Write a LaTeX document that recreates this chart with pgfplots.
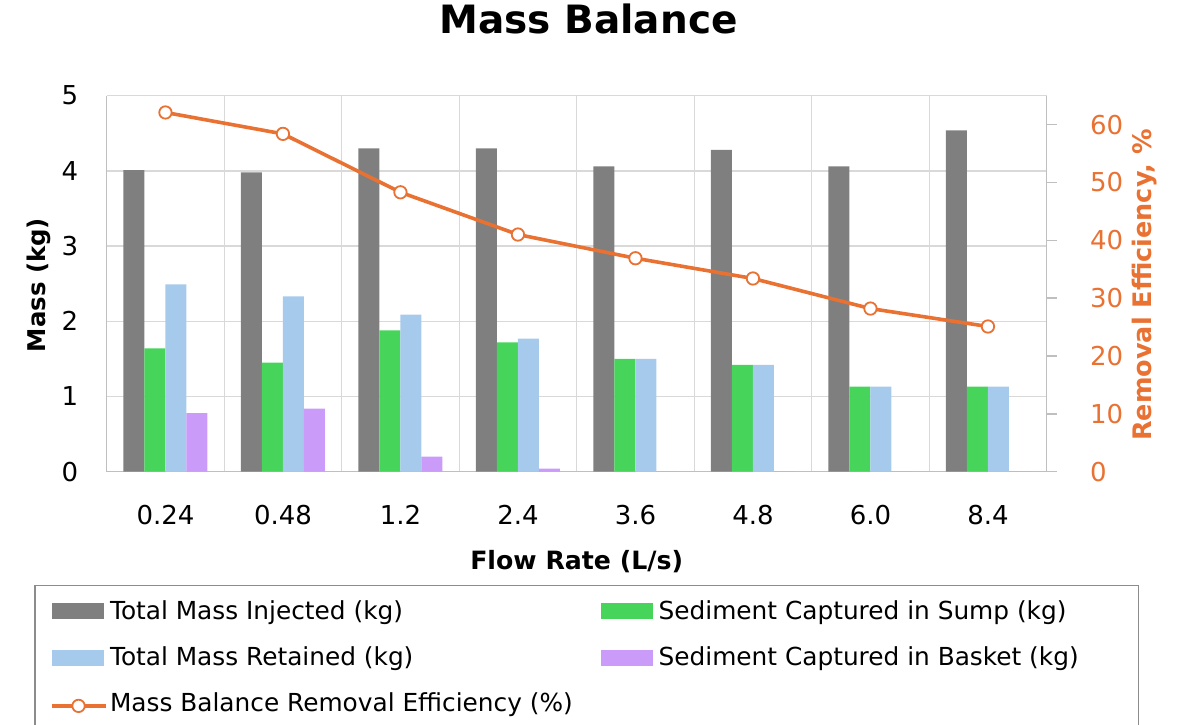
\documentclass[border=0pt]{standalone}
\usepackage{fontspec}
\setmainfont{DejaVu Sans}
\usepackage{pgfplots}
\pgfplotsset{compat=1.18}

\definecolor{injected}{HTML}{7F7F7F}
\definecolor{sump}{HTML}{47D45A}
\definecolor{retained}{HTML}{A6CAEC}
\definecolor{basket}{HTML}{CA9BF9}
\definecolor{effcolor}{HTML}{E97132}
\definecolor{gridgray}{HTML}{D9D9D9}
\definecolor{axisgray}{HTML}{BFBFBF}
\definecolor{legendgray}{HTML}{8C8C8C}

\newcommand\fs[1]{\fontsize{#1}{#1}\selectfont}

% legend swatches: a flat block for bars, a short line with a centred mark
\pgfplotsset{
  swatch/.style={legend image code/.code={\fill[##1] (0pt,0pt) rectangle (52pt,16pt);}},
  linekey/.style={legend image code/.code={\draw[##1, mark repeat=2, mark phase=2] plot coordinates {(0pt,6pt) (27pt,6pt) (54pt,6pt)};}},
}

\begin{document}
\begin{tikzpicture}[x=1pt,y=1pt]
\path[use as bounding box] (0,0) rectangle (1181,725);

% Mass bars (left axis)
\begin{axis}[
  at={(106.7pt,253.3pt)}, anchor=south west,
  scale only axis, width=940pt, height=376pt,
  xmin=-0.5, xmax=7.5, ymin=0, ymax=5,
  ybar=0pt, bar width=21pt,
  axis x line*=bottom, axis y line*=left,
  axis line style={draw=axisgray, line width=1.4pt, -},
  xtick={0,...,7},
  xticklabels={0.24,0.48,1.2,2.4,3.6,4.8,6.0,8.4},
  minor xtick={0.5,1.5,...,6.5},
  ytick={0,...,5},
  major tick length=0pt, minor tick length=0pt,
  ymajorgrids=true, xminorgrids=true,
  grid style={draw=gridgray, line width=1.4pt},
  minor grid style={draw=gridgray, line width=1.4pt},
  /pgf/number format/assume math mode=true,
  xticklabel style={anchor=north, inner sep=0pt, yshift=-33.3pt, font=\fs{26}},
  yticklabel style={anchor=east, inner sep=0pt, xshift=-28.4pt, font=\fs{26}},
]
\addplot[fill=injected, draw=none] coordinates {(0,4.01) (1,3.98) (2,4.30) (3,4.30) (4,4.06) (5,4.28) (6,4.06) (7,4.54)};
\addplot[fill=sump, draw=none] coordinates {(0,1.64) (1,1.45) (2,1.88) (3,1.72) (4,1.50) (5,1.42) (6,1.13) (7,1.13)};
\addplot[fill=retained, draw=none] coordinates {(0,2.49) (1,2.33) (2,2.09) (3,1.77) (4,1.50) (5,1.42) (6,1.13) (7,1.13)};
\addplot[fill=basket, draw=none] coordinates {(0,0.78) (1,0.84) (2,0.20) (3,0.04) (4,0) (5,0) (6,0) (7,0)};
\end{axis}

% Removal efficiency line (right axis) and the shared legend
\begin{axis}[
  at={(106.7pt,253.3pt)}, anchor=south west,
  scale only axis, width=940pt, height=376pt,
  xmin=-0.5, xmax=7.5, ymin=0, ymax=65,
  axis x line=none, axis y line*=right,
  axis line style={draw=axisgray, line width=1.4pt, -},
  ytick={0,10,...,60},
  tick align=outside, major tick length=10pt,
  ytick style={draw=axisgray, line width=1.4pt},
  /pgf/number format/assume math mode=true,
  yticklabel style={anchor=west, inner sep=0pt, xshift=33.3pt, font=\fs{26}, text=effcolor},
  legend columns=2,
  legend style={
    draw=none, fill=none, inner sep=0pt, outer sep=0pt,
    at={(-0.0606,-0.342)}, anchor=north west,
    cells={anchor=base west},
    nodes={inner sep=0pt, outer sep=0pt, text height=19pt, text depth=6pt, font=\fs{24.8}},
    column sep=2.7pt,
    /tikz/column 2/.append style={column sep=27.9pt},
    /tikz/column 3/.append style={column sep=6pt},
    row sep=21.3pt,
  },
]
\addlegendimage{fill=injected, draw=none, swatch}
\addlegendentry{Total Mass Injected (kg)}
\addlegendimage{fill=sump, draw=none, swatch}
\addlegendentry{Sediment Captured in Sump (kg)}
\addlegendimage{fill=retained, draw=none, swatch}
\addlegendentry{Total Mass Retained (kg)}
\addlegendimage{fill=basket, draw=none, swatch}
\addlegendentry{Sediment Captured in Basket (kg)}
\addplot[effcolor, line width=3.6pt, mark=*, mark size=6.2pt,
  mark options={fill=white, draw=effcolor, line width=1.8pt}, linekey]
  coordinates {(0,62.1) (1,58.4) (2,48.3) (3,41.0) (4,36.9) (5,33.4) (6,28.2) (7,25.1)};
\addlegendentry{Mass Balance Removal Efficiency (\%)}
\end{axis}

% Titles and legend frame
\node[font=\bfseries\fs{39}, anchor=base] at (588.5,691.7) {Mass Balance};
\node[font=\bfseries\fs{25.2}, anchor=base] at (576.7,155) {Flow Rate (L/s)};
\node[font=\bfseries\fs{24.4}, rotate=90, anchor=base] at (45,440) {Mass (kg)};
\node[font=\bfseries\fs{25.5}, rotate=90, anchor=base, text=effcolor] at (1151.7,440) {Removal Efficiency, \%};
\draw[legendgray, line width=1.4pt] (35,139.3) rectangle (1138.3,-20);
\end{tikzpicture}
\end{document}
